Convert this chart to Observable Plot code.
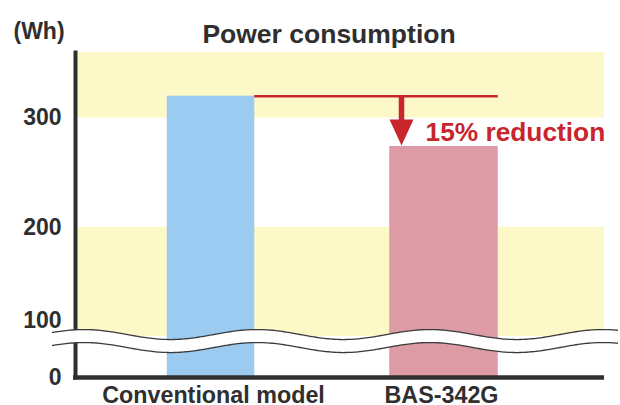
<!DOCTYPE html>
<html>
<head>
<meta charset="utf-8">
<script src="https://cdn.jsdelivr.net/npm/d3@7"></script>
<script src="https://cdn.jsdelivr.net/npm/@observablehq/plot@0.6"></script>
<style>
  html, body { margin: 0; padding: 0; background: #fff; }
  #chart svg { display: block; }
</style>
</head>
<body>
<div id="chart"></div>
<script>
// ---- data ----
const models = ["Conventional model", "BAS-342G"];
const consumptionWh = [320, 274];
const yTickValues = [0, 100, 200, 300];
const shadedFrom = [100, 300];
const shadedTo = [200, 360];
const yMax = 360;
const axisBreakAt = 100;
const unitLabel = "(Wh)";
const titleText = "Power consumption";
const reductionLabel = "15% reduction";

// ---- styling ----
const FONT = "'Liberation Sans', Arial, Helvetica, sans-serif";
const INK = "#2f2f2f";
const RED = "#c8252d";
const YELLOW = "#fcf8c8";
const BLUE = "#9bcbf0";
const PINK = "#dd9ba6";

// broken axis: values below the break are compressed
const belowBreak = 37.5; // scale units occupied by 0..100
const brk = v => v >= axisBreakAt ? belowBreak + (v - axisBreakAt) : v * belowBreak / axisBreakAt;

const rows = models.map((m, i) => ({model: m, wh: consumptionWh[i]}));
const bands = shadedFrom.map((a, i) => ({from: a, to: shadedTo[i]}));
const conv = rows[0], bas = rows[1];

// custom downward-pointing triangle with its tip at the anchor point
const arrowHead = {
  draw(ctx) {
    ctx.moveTo(-12, -26);
    ctx.lineTo(12, -26);
    ctx.lineTo(0, 0);
    ctx.closePath();
  }
};

const chart = Plot.plot({
  width: 620,
  height: 405,
  marginTop: 52,
  marginBottom: 28,
  marginLeft: 75,
  marginRight: 16,
  style: {fontFamily: FONT, fontWeight: "bold", color: INK, background: "#fff"},
  x: {type: "band", domain: models, range: [93.25, 560.25], padding: 0, axis: null},
  y: {domain: [0, brk(yMax)], axis: null},
  marks: [
    // shaded bands
    Plot.rectY(bands, {y1: d => brk(d.from), y2: d => brk(d.to), fill: YELLOW}),
    // bars
    Plot.barY([conv], {x: "model", y: d => brk(d.wh), fill: BLUE, insetLeft: 72.75, insetRight: 72.75}),
    Plot.barY([bas], {x: "model", y: d => brk(d.wh), fill: PINK, insetLeft: 62.25, insetRight: 62.25}),
    // axes lines
    Plot.frame({anchor: "left", stroke: INK, strokeWidth: 4}),
    Plot.ruleY([0], {stroke: INK, strokeWidth: 4.5, insetLeft: -2}),
    // y tick labels
    Plot.text(yTickValues.filter(v => v !== axisBreakAt), {
      y: d => brk(d), text: d => String(d), frameAnchor: "left", textAnchor: "end",
      dx: -14, fontSize: 23, fill: INK
    }),
    Plot.text(yTickValues.filter(v => v === axisBreakAt), {
      y: d => brk(d), text: d => String(d), frameAnchor: "left", textAnchor: "end",
      dx: -14, dy: -16, fontSize: 23, fill: INK
    }),
    // x labels
    Plot.text([conv], {
      x: "model", text: "model", frameAnchor: "bottom", lineAnchor: "top",
      dx: 2.5, dy: 8.5, fontSize: 23.3, fill: INK
    }),
    Plot.text([bas], {
      x: "model", text: "model", frameAnchor: "bottom", lineAnchor: "top",
      dx: -2.5, dy: 8.5, fontSize: 23.3, fill: INK
    }),
    // title and unit
    Plot.text([titleText], {frameAnchor: "top", dx: -11, dy: -28.8, fontSize: 26.5, fill: INK}),
    Plot.text([unitLabel], {frameAnchor: "top-left", textAnchor: "start", dx: -62, dy: -29.5, fontSize: 23, fill: INK}),
    // reduction annotation
    Plot.tickY([{model: bas.model, wh: conv.wh}], {
      x: "model", y: d => brk(d.wh), stroke: RED, strokeWidth: 2.5,
      insetLeft: -72.75, insetRight: 62.25
    }),
    Plot.ruleX([{model: bas.model, from: conv.wh, to: bas.wh}], {
      x: "model", y1: d => brk(d.from), y2: d => brk(d.to), dx: -42.5,
      stroke: RED, strokeWidth: 5.5, insetBottom: 14
    }),
    Plot.dot([bas], {
      x: "model", y: d => brk(d.wh), dx: -42.5, dy: -1,
      symbol: arrowHead, fill: RED, stroke: "none", r: 5
    }),
    Plot.text([{model: bas.model, wh: bas.wh, label: reductionLabel}], {
      x: "model", y: d => brk(d.wh), text: "label", textAnchor: "start",
      dx: -18.5, dy: -14, fontSize: 26.3, fill: RED
    })
  ]
});

document.getElementById("chart").appendChild(chart);

// ---- axis-break wave (decoration positioned with the plot's own y scale) ----
const ys = chart.scale("y");
const cy = ys.apply(brk(axisBreakAt)) - 1.5;
const amp = 5, period = 173, phaseX = 430, gap = 13;
const xs = d3.range(52, 619, 2);
const upper = xs.map(x => [x, cy - amp * Math.cos(2 * Math.PI * (x - phaseX) / period)]);
const lower = upper.map(([x, y]) => [x, y + gap]);
const line = d3.line();
const g = d3.select(chart).append("g");
g.append("path")
  .attr("d", line(upper.concat(lower.slice().reverse())) + "Z")
  .attr("fill", "#fff");
g.append("path").attr("d", line(upper)).attr("fill", "none").attr("stroke", "#3a3a3a").attr("stroke-width", 1.3);
g.append("path").attr("d", line(lower)).attr("fill", "none").attr("stroke", "#3a3a3a").attr("stroke-width", 1.3);
</script>
</body>
</html>
